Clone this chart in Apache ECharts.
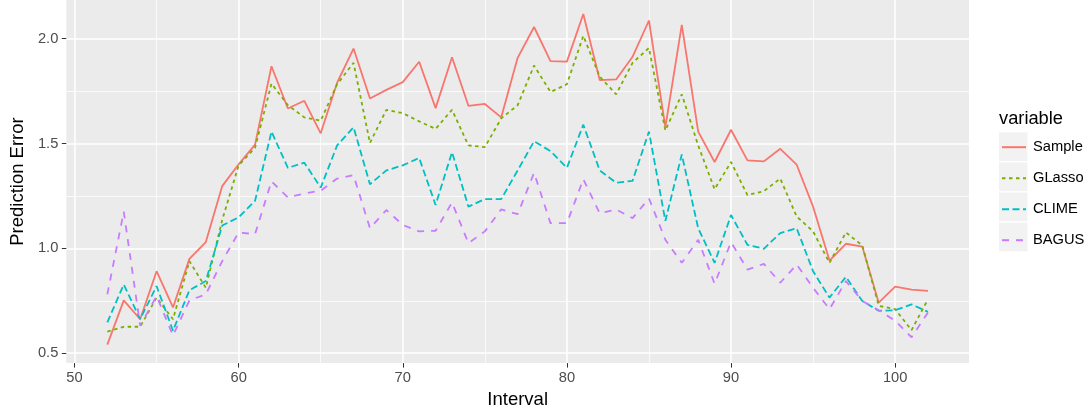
<!DOCTYPE html>
<html>
<head>
<meta charset="utf-8">
<script src="https://cdn.jsdelivr.net/npm/echarts@6/dist/echarts.min.js"></script>
<style>
html,body{margin:0;padding:0;background:#fff;}
#chart{width:1091px;height:414px;}
</style>
</head>
<body>
<div id="chart"></div>
<script>
const intervals = [52,53,54,55,56,57,58,59,60,61,62,63,64,65,66,67,68,69,70,71,72,73,74,75,76,77,78,79,80,81,82,83,84,85,86,87,88,89,90,91,92,93,94,95,96,97,98,99,100,101,102];
const sample = [0.541,0.752,0.662,0.891,0.718,0.950,1.030,1.297,1.401,1.495,1.869,1.667,1.704,
  1.549,1.790,1.953,1.715,1.756,1.793,1.890,1.669,1.912,1.680,1.689,1.625,1.909,2.056,1.893,
  1.891,2.118,1.803,1.806,1.914,2.087,1.578,2.066,1.557,1.412,1.566,1.420,1.415,
  1.475,1.399,1.199,0.942,1.022,1.008,0.741,0.818,0.803,0.797];
const glasso = [0.603,0.626,0.626,0.765,0.662,0.939,0.812,1.136,1.396,1.480,1.786,1.683,1.625,
  1.609,1.783,1.885,1.503,1.661,1.645,1.606,1.570,1.661,1.491,1.483,1.620,1.683,1.872,1.746,
  1.783,2.014,1.819,1.735,1.885,1.956,1.562,1.735,1.491,1.282,1.412,1.254,1.273,
  1.333,1.152,1.081,0.931,1.076,1.014,0.726,0.710,0.610,0.757];
const clime = [0.647,0.828,0.662,0.820,0.607,0.800,0.844,1.109,1.148,1.227,1.557,1.384,1.409,
  1.290,1.491,1.578,1.306,1.372,1.396,1.431,1.207,1.459,1.199,1.235,1.235,1.372,1.511,1.464,
  1.384,1.590,1.372,1.313,1.322,1.557,1.131,1.448,1.096,0.931,1.159,1.017,0.998,
  1.073,1.096,0.891,0.765,0.864,0.749,0.702,0.705,0.733,0.697];
const bagus = [0.781,1.175,0.631,0.773,0.584,0.752,0.781,0.939,1.076,1.068,1.320,1.243,1.262,
  1.275,1.333,1.349,1.096,1.183,1.112,1.081,1.084,1.219,1.025,1.081,1.186,1.163,1.361,1.120,
  1.120,1.330,1.167,1.186,1.144,1.238,1.041,0.931,1.041,0.831,1.030,0.899,0.926,
  0.836,0.923,0.812,0.710,0.844,0.749,0.705,0.655,0.576,0.694];
const seriesNames = ['Sample','GLasso','CLIME','BAGUS'];
const xTicks = [50,60,70,80,90,100];
const xMinorTicks = [55,65,75,85,95];
const yTicks = [0.5,1.0,1.5,2.0];
const yMinorTicks = [0.75,1.25,1.75];

const FONT = "'Liberation Sans', Arial, Helvetica, sans-serif";
const colors = ['#F8766D','#7CAE00','#00BFC4','#C77CFF'];
const dashes = ['solid',[3.5,3.5],[7,3.5],[7,7]];
const values = [sample, glasso, clime, bagus];

const chart = echarts.init(document.getElementById('chart'), null, {renderer:'canvas'});

const xMin = 49.5, xMax = 104.5, yMin = 0.4527, yMax = 2.1848;

const series = seriesNames.map((n,i)=>({
  name:n, type:'line', xAxisIndex:0, yAxisIndex:0,
  data: intervals.map((x,k)=>[x, values[i][k]]),
  symbol:'none', showSymbol:false, smooth:false,
  lineStyle:{color:colors[i], width:1.8, type:dashes[i], cap:'butt'},
  itemStyle:{color:colors[i]},
  emphasis:{disabled:true}, animation:false, z:5
}));

const keyRects = seriesNames.map((n,i)=>({
  type:'rect', left:999, top:132.3 + 30.1*i, z:0,
  shape:{width:28.5, height:28.7}, style:{fill:'#F2F2F2'}, silent:true
}));

chart.setOption({
  animation:false,
  backgroundColor:'#ffffff',
  textStyle:{fontFamily:FONT},
  grid:{left:61, right:122, top:0, bottom:48, show:true, backgroundColor:'#EBEBEB', borderWidth:0, containLabel:false},
  title:{text:'variable', left:999, top:110, padding:0,
    textStyle:{fontFamily:FONT, fontSize:18.3, fontWeight:'normal', color:'#000'}},
  legend:{
    data:seriesNames, orient:'vertical', left:1001, top:139.7, padding:0,
    itemWidth:24, itemHeight:14, itemGap:16,
    itemStyle:{color:'rgba(0,0,0,0)', borderWidth:0, opacity:0},
    textStyle:{fontFamily:FONT, fontSize:14.7, color:'#000', lineHeight:14, padding:[0,0,0,2]},
    selectedMode:false, z:4
  },
  graphic: keyRects,
  xAxis:[{
    type:'value', min:xMin, max:xMax, position:'bottom',
    name:'Interval', nameLocation:'middle', nameGap:24,
    nameTextStyle:{fontFamily:FONT, fontSize:18.5, color:'#000'},
    axisLine:{show:false},
    axisTick:{show:true, length:4.5, lineStyle:{color:'#333333', width:1}, customValues:xTicks},
    axisLabel:{show:true, margin:7, fontFamily:FONT, fontSize:14.7, color:'#4D4D4D', customValues:xTicks,
      formatter:(v)=>String(v)},
    splitLine:{show:true, lineStyle:{color:'#FFFFFF', width:1.5}},
    minorSplitLine:{show:false}
  },{
    type:'value', min:xMin, max:xMax, position:'bottom', gridIndex:0,
    axisLine:{show:false}, axisLabel:{show:false},
    axisTick:{show:false, customValues:xMinorTicks},
    splitLine:{show:true, lineStyle:{color:'#FFFFFF', width:0.75}}
  }],
  yAxis:[{
    type:'value', min:yMin, max:yMax, position:'left',
    name:'Prediction Error', nameLocation:'middle', nameGap:35, nameRotate:90,
    nameTextStyle:{fontFamily:FONT, fontSize:18.5, color:'#000'},
    axisLine:{show:false},
    axisTick:{show:true, length:4.5, lineStyle:{color:'#333333', width:1}, customValues:yTicks},
    axisLabel:{show:true, margin:8, fontFamily:FONT, fontSize:14.7, color:'#4D4D4D', customValues:yTicks,
      formatter:(v)=>Number(v).toFixed(1)},
    splitLine:{show:true, lineStyle:{color:'#FFFFFF', width:1.5}}
  },{
    type:'value', min:yMin, max:yMax, position:'left', gridIndex:0,
    axisLine:{show:false}, axisLabel:{show:false},
    axisTick:{show:false, customValues:yMinorTicks},
    splitLine:{show:true, lineStyle:{color:'#FFFFFF', width:0.75}}
  }],
  series: series
});
</script>
</body>
</html>
